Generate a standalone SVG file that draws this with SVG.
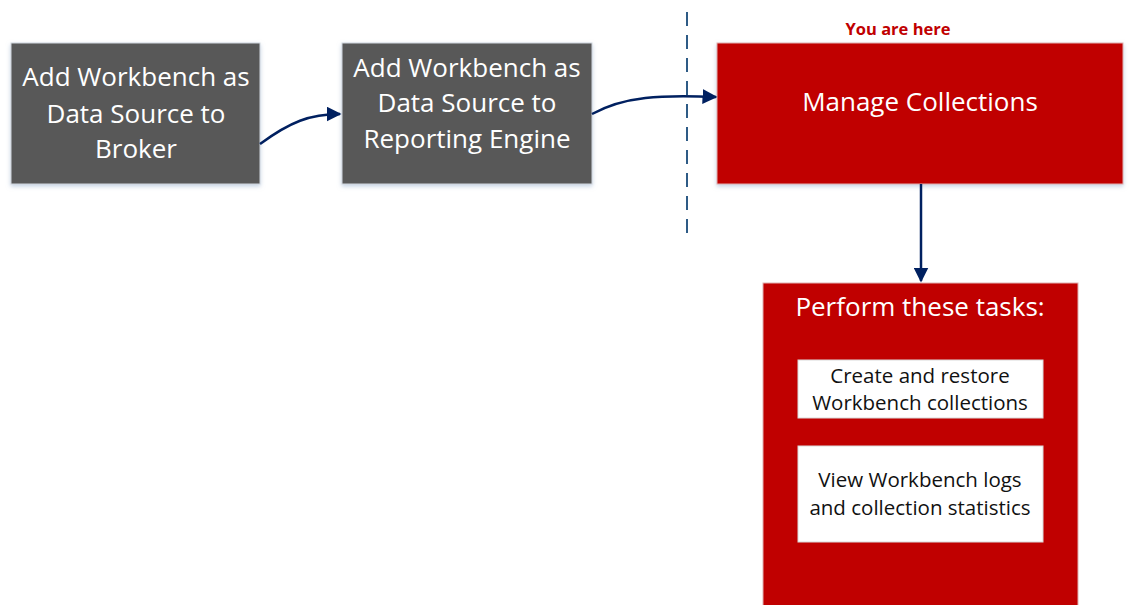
<svg xmlns="http://www.w3.org/2000/svg" width="1142" height="605" viewBox="0 0 1142 605">
<style>
.gray{fill:#595959;stroke:#d0d6de;stroke-width:1}
.red{fill:#c00000;stroke:#e0b0b0;stroke-width:1}
.white{fill:#ffffff;stroke:#d9d9d9;stroke-width:1}
.t{font-family:"Open Sans","Liberation Sans",sans-serif;text-anchor:middle}
.wt{fill:#ffffff;font-size:26px}
.bt{fill:#111111;font-size:20.5px}
.con{fill:none;stroke:#002060;stroke-width:2.5}
</style>
<defs>
<marker id="ah" viewBox="0 0 10 10" refX="9" refY="5" markerWidth="6" markerHeight="6" markerUnits="strokeWidth" orient="auto">
<path d="M0,0 L10,5 L0,10 z" fill="#002060"/>
</marker>
<filter id="sh" x="-5%" y="-5%" width="110%" height="115%">
<feDropShadow dx="0" dy="2" stdDeviation="2" flood-color="#9fb6d0" flood-opacity="0.6"/>
</filter>
</defs>
<line x1="687" y1="12" x2="687" y2="240" stroke="#2e5b86" stroke-width="2" stroke-dasharray="14,9"/>
<g id="n1">
<rect class="gray" x="11" y="43" width="249" height="141" filter="url(#sh)"/>
<text class="t wt" x="136" y="86">Add Workbench as</text>
<text class="t wt" x="136" y="123">Data Source to</text>
<text class="t wt" x="136" y="158">Broker</text>
</g>
<g id="n2">
<rect class="gray" x="342" y="43" width="250" height="141" filter="url(#sh)"/>
<text class="t wt" x="467" y="77">Add Workbench as</text>
<text class="t wt" x="467" y="112">Data Source to</text>
<text class="t wt" x="467" y="148">Reporting Engine</text>
</g>
<g id="n3">
<text class="t" x="898" y="35" font-size="16.5" font-weight="bold" fill="#c00000">You are here</text>
<rect class="red" x="717" y="43" width="406" height="141" filter="url(#sh)"/>
<text class="t wt" x="920" y="111">Manage Collections</text>
</g>
<g id="n4">
<rect class="red" x="763" y="283" width="315" height="330"/>
<text class="t wt" x="920" y="316">Perform these tasks:</text>
<g id="n5">
<rect class="white" x="798" y="360" width="245" height="58"/>
<text class="t bt" x="920" y="383">Create and restore</text>
<text class="t bt" x="920" y="410">Workbench collections</text>
</g>
<g id="n6">
<rect class="white" x="798" y="446" width="245" height="96"/>
<text class="t bt" x="920" y="487">View Workbench logs</text>
<text class="t bt" x="920" y="515">and collection statistics</text>
</g>
</g>
<g id="connectors">
<path class="con" d="M260,144 C290,122 310,114 340,114" marker-end="url(#ah)"/>
<path class="con" d="M592,114 C625,96 660,95 716,97" marker-end="url(#ah)"/>
<path class="con" d="M921,184 L921,281" marker-end="url(#ah)"/>
</g>
</svg>
